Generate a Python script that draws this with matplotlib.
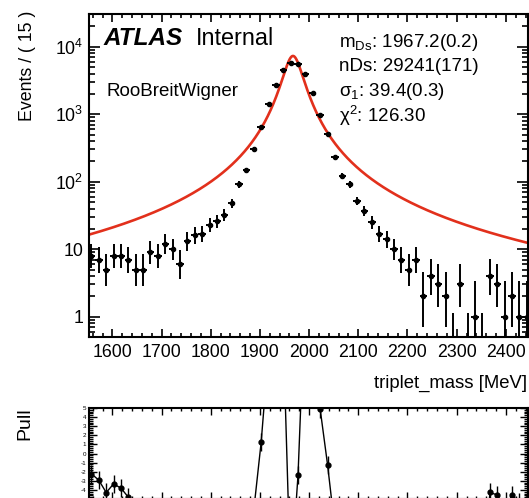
import math
import numpy as np
import matplotlib
matplotlib.use('Agg')
from matplotlib import pyplot as plt
from matplotlib.ticker import MultipleLocator, LogLocator, FuncFormatter, NullFormatter

plt.rcParams['font.family'] = ['Liberation Sans', 'DejaVu Sans']
plt.rcParams['mathtext.fontset'] = 'custom'
plt.rcParams['mathtext.rm'] = 'Liberation Sans'
plt.rcParams['mathtext.it'] = 'Liberation Sans:italic'
plt.rcParams['mathtext.bf'] = 'Liberation Sans:bold'

# binning of triplet_mass, 15 MeV per bin
bin_width = 15.0
mass_lo, mass_hi = 1550.0, 2450.0
centers = np.arange(mass_lo + bin_width / 2, mass_hi, bin_width)

# events per bin
counts = np.array([
    8, 7, 5, 8, 8, 7, 5, 5, 9, 8,
    12, 10, 6, 13, 16, 17, 23, 26, 32, 48,
    91, 149, 305, 650, 1415, 2710, 4520, 5800, 5550, 3900,
    2080, 973, 502, 234, 121, 91, 52, 37, 25, 17,
    14, 10, 7, 5, 7, 2, 4, 3, 2, 0,
    3, 0, 1, 0, 4, 3, 1, 2, 1, 1,
][:len(centers)], dtype=float)

# fit result (RooBreitWigner)
m_ds = 1967.2
n_ds = 29241
width = 39.4
chi2 = 126.30

# Poisson errors (Gehrels), empty bins get RooFit's 1.147 upper error
err_hi = np.where(counts > 0, np.sqrt(counts + 0.75) + 1.0, 1.147)
safe = np.maximum(counts, 1)
lo_val = np.where(counts > 0, safe * (1 - 1 / (9 * safe) - 1 / (3 * np.sqrt(safe))) ** 3, 0.0)
err_lo = counts - lo_val


def breit_wigner(x):
    half = width / 2
    norm = (math.atan((mass_hi - m_ds) / half) - math.atan((mass_lo - m_ds) / half)) / math.pi
    return n_ds * bin_width * (half / math.pi) / ((x - m_ds) ** 2 + half ** 2) / norm


model_at_bins = breit_wigner(centers)
pull_err = np.where(model_at_bins > counts, err_hi, err_lo)
pulls = (counts - model_at_bins) / pull_err

W, H = 529, 498
fig = plt.figure(figsize=(W / 100, H / 100), dpi=100)

ax = fig.add_axes([89 / W, (H - 337) / H, (527.5 - 89) / W, (337 - 14) / H])
ax.set_yscale('log')
ax.set_xlim(1552.5, 2444)
ax.set_ylim(0.5, 3.05e4)

# data points with error bars
lower = np.clip(counts - err_lo, 1e-2, None)
upper = counts + err_hi
ax.vlines(centers, lower, upper, color='black', lw=1.4, zorder=3)
has = counts > 0
ax.hlines(counts[has], centers[has] - bin_width / 2, centers[has] + bin_width / 2,
          color='black', lw=1.4, zorder=3)
ax.plot(centers[has], counts[has], 'o', color='black', ms=3.0, zorder=4)

# fitted curve
xs = np.linspace(mass_lo, mass_hi, 2000)
ax.plot(xs, breit_wigner(xs), color='#e2301c', lw=1.9, zorder=2)

for s in ax.spines.values():
    s.set_linewidth(1.5)
ax.xaxis.set_major_locator(MultipleLocator(100))
ax.xaxis.set_minor_locator(MultipleLocator(20))
ax.yaxis.set_major_locator(LogLocator(base=10))
ax.yaxis.set_minor_locator(LogLocator(base=10, subs=np.arange(2, 10)))
ax.yaxis.set_minor_formatter(NullFormatter())


def log_label(v, pos):
    p = int(round(math.log10(v)))
    if p == 0:
        return '1'
    if p == 1:
        return '10'
    return '10$^{%d}$' % p


ax.yaxis.set_major_formatter(FuncFormatter(log_label))
ax.tick_params(which='both', direction='in', top=True, right=True, labelsize=12.8, width=1.2)
ax.tick_params(axis='x', which='major', length=6, pad=5)
ax.tick_params(axis='x', which='minor', length=3)
ax.tick_params(axis='y', which='major', length=8, pad=4)
ax.tick_params(axis='y', which='minor', length=4.5)

ax.text(0.034, 0.905, 'ATLAS', transform=ax.transAxes, fontsize=17.5,
        fontweight='bold', fontstyle='italic', va='baseline')
ax.text(0.244, 0.905, 'Internal', transform=ax.transAxes, fontsize=16.8, va='baseline')
ax.text(0.039, 0.76, 'RooBreitWigner', transform=ax.transAxes, fontsize=13.5, va='center')

params = [
    'm$_{\\mathrm{Ds}}$: %.1f(0.2)' % m_ds,
    'nDs: %d(171)' % n_ds,
    'σ$_{\\mathrm{1}}$: %.1f(0.3)' % width,
    'χ$^{2}$: %.2f' % chi2,
]
for i, t in enumerate(params):
    fig.text(339 / W, (H - 42 - 24.5 * i) / H, t, fontsize=13.5, va='center')

fig.text(27 / W, (H - 66) / H, 'Events / ( 15 )', rotation=90, fontsize=12.8,
         ha='center', va='center')
fig.text(527 / W, (H - 383) / H, 'triplet_mass [MeV]', fontsize=13.3,
         ha='right', va='center')

# pull panel
ax2 = fig.add_axes([89 / W, (H - 499) / H, (527.5 - 89) / W, (499 - 408) / H])
ax2.set_xlim(1552.5, 2444)
ax2.set_ylim(-5, 5)
ax2.errorbar(centers, pulls, yerr=1.0, fmt='o-', color='black', ms=3.5,
             lw=1.0, elinewidth=1.0, capsize=0)
for s in ax2.spines.values():
    s.set_linewidth(1.5)
ax2.xaxis.set_major_locator(MultipleLocator(100))
ax2.xaxis.set_minor_locator(MultipleLocator(20))
pull_ticks = np.arange(-5, 6)
ax2.set_yticks(pull_ticks)
ax2.set_yticklabels(['' if t == -5 else str(t) for t in pull_ticks])
ax2.yaxis.set_minor_locator(MultipleLocator(0.2))
ax2.set_xticklabels([])
ax2.tick_params(which='both', direction='in', top=True, right=True, width=1.0)
ax2.tick_params(axis='y', which='major', length=6, labelsize=4.5, pad=2)
ax2.tick_params(axis='y', which='minor', length=3)
ax2.tick_params(axis='x', which='major', length=5)
ax2.tick_params(axis='x', which='minor', length=2.5)
fig.text(25 / W, (H - 424) / H, 'Pull', rotation=90, fontsize=14,
         ha='center', va='center')

fig.savefig('out.png', dpi=100)
